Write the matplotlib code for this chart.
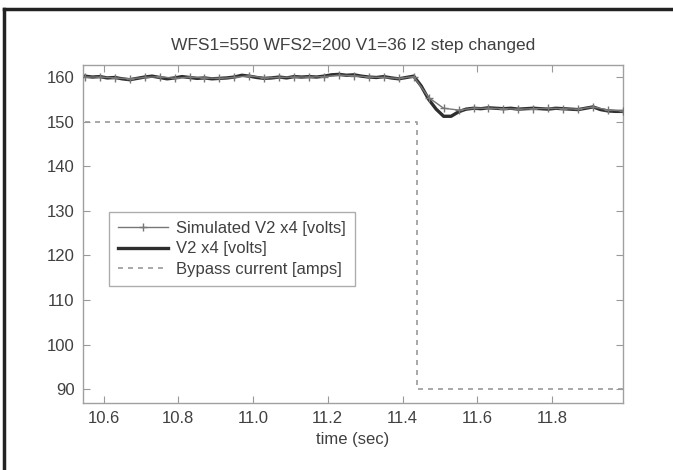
import numpy as np
import matplotlib
matplotlib.use("Agg")
import matplotlib.pyplot as plt
from matplotlib.lines import Line2D

plt.rcParams['font.family'] = ['Liberation Sans', 'DejaVu Sans']

title = "WFS1=550 WFS2=200 V1=36 I2 step changed"
xlabel = "time (sec)"
labels = ["Simulated V2 x4 [volts]", "V2 x4 [volts]", "Bypass current [amps]"]

# Simulated voltage, sampled every 0.04 s
t_sim = np.round(np.arange(10.55, 11.995, 0.04), 2)
v_sim = [160.0, 160.0, 159.8, 159.6, 159.9, 160.1, 159.7, 160.0, 159.8, 159.7,
         159.9, 160.3, 159.8, 159.9, 160.0, 160.0, 160.1, 160.4, 160.3, 160.0,
         159.9, 159.7, 160.1, 155.4, 153.0, 152.6, 153.0, 153.0, 152.9, 152.8,
         152.9, 153.0, 152.9, 152.8, 153.3, 152.6, 152.4]

# Measured voltage, sampled every 0.02 s
t_meas = np.round(np.arange(10.55, 11.995, 0.02), 2)
v_meas = [160.2, 160.0, 160.1, 159.8, 159.9, 159.6, 159.4, 159.7, 160.0, 160.2,
          159.9, 159.6, 159.8, 160.1, 159.9, 159.7, 159.8, 159.6, 159.7, 159.8,
          160.0, 160.4, 160.2, 159.9, 159.7, 159.8, 160.0, 159.8, 160.1, 160.0,
          160.1, 160.0, 160.2, 160.5, 160.6, 160.4, 160.5, 160.2, 160.0, 159.9,
          160.1, 159.8, 159.6, 159.9, 160.2, 158.0, 155.0, 152.8, 151.2, 151.2,
          152.2, 152.8, 153.0, 152.9, 153.1, 153.0, 152.9, 153.0, 152.8, 152.9,
          153.0, 152.9, 152.8, 153.0, 152.9, 152.8, 152.7, 153.0, 153.3, 152.7,
          152.4, 152.3, 152.3]

# Bypass current step
t_byp = [10.55, 11.44, 11.44, 11.99]
i_byp = [150, 150, 90, 90]

xticks = [10.6, 10.8, 11.0, 11.2, 11.4, 11.6, 11.8]
xticklabels = ["10.6", "10.8", "11.0", "11.2", "11.4", "11.6", "11.8"]
yticks = [90, 100, 110, 120, 130, 140, 150, 160]

W, H = 673, 470
fig = plt.figure(figsize=(W / 100, H / 100), dpi=100)
ax = fig.add_axes([83 / W, 1 - 403 / H, (623 - 83) / W, (403 - 65) / H])

txt = "#404040"
ax.plot(t_byp, i_byp, linestyle=(0, (3, 3)), color="#9a9a9a", lw=1.2, zorder=1)
ax.plot(t_meas, v_meas, color="#2e2e2e", lw=2.4, zorder=2)
ax.plot(t_sim, v_sim, color="#777777", lw=1.0, marker="+", ms=6, mew=1.0, zorder=3)

ax.set_xlim(10.545, 11.99)
ax.set_ylim(86.9, 162.7)
ax.set_xticks(xticks)
ax.set_xticklabels(xticklabels)
ax.set_yticks(yticks)
ax.tick_params(direction="in", top=True, right=True, length=5, width=0.8,
               colors="#999999", labelcolor=txt, labelsize=12, pad=6)
for s in ax.spines.values():
    s.set_color("#a0a0a0")
    s.set_linewidth(1.0)

ax.set_title(title, color=txt, fontsize=12.5, pad=11)
ax.set_xlabel(xlabel, color=txt, fontsize=12, labelpad=4)

handles = [
    Line2D([0, 0.5, 1], [0, 0, 0], color="#777777", lw=1.0, marker="+", ms=6, mew=1.0,
           markevery=[1]),
    Line2D([], [], color="#2e2e2e", lw=2.4),
    Line2D([], [], color="#9a9a9a", lw=1.2, linestyle=(0, (3, 3))),
]
leg = ax.legend(handles, labels, loc="upper left", bbox_to_anchor=(26 / 540, 1 - 147 / 338),
                fontsize=12, handlelength=3.0, handletextpad=0.45, labelspacing=0.32,
                borderpad=0.55, frameon=True, fancybox=False, borderaxespad=0)
leg.get_frame().set_edgecolor("#999999")
leg.get_frame().set_linewidth(1.0)
for t in leg.get_texts():
    t.set_color(txt)

# page frame around the figure
fig.add_artist(Line2D([4 / W, 1], [1 - 9 / H, 1 - 9 / H], color="#222222", lw=2.5,
                      transform=fig.transFigure))
fig.add_artist(Line2D([4 / W, 4 / W], [0, 1 - 9 / H], color="#222222", lw=2.5,
                      transform=fig.transFigure))

fig.savefig("out.png", dpi=100)
